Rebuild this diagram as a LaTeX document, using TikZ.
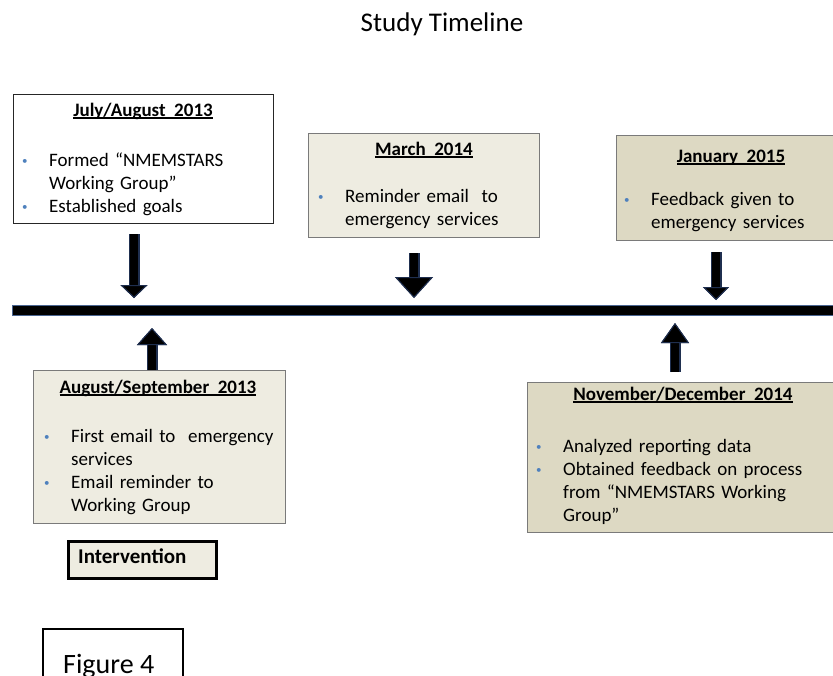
\documentclass[tikz,border=0pt]{standalone}
\usepackage{fontspec}
\setmainfont{Carlito}
\usetikzlibrary{arrows.meta,calc,positioning}
\definecolor{tan}{HTML}{EEECE1}
\definecolor{darktan}{HTML}{DDD9C3}
\definecolor{dotblue}{HTML}{4F81BD}
\definecolor{navy}{HTML}{1F2F4F}
\definecolor{barblue}{HTML}{4A6590}
\definecolor{edge}{HTML}{7A7A7A}
\newcommand{\bitem}[1]{\hangindent=27pt\hangafter=1\noindent\hbox to 27pt{\raisebox{1.5pt}{\textcolor{dotblue}{\fontsize{11}{11}\selectfont\textbullet}}\hfil}#1\par}
\newcommand{\uln}[1]{\setbox0\hbox{#1}\rlap{\rule[-2.5pt]{\wd0}{1.2pt}}\box0}

\begin{document}
\begin{tikzpicture}[x=1pt,y=-1pt]
\tikzstyle{box} = [draw=edge, line width=1.2pt, anchor=north west, inner sep=0pt]
\tikzstyle{head} = [font=\bfseries\fontsize{19}{23}\selectfont, anchor=base, inner sep=0pt]
\tikzstyle{list} = [font=\fontsize{19}{23}\selectfont, anchor=base west, inner sep=0pt, text width=290pt, align=left]
\tikzstyle{fat} = [draw=black, line width=8pt, preaction={draw=navy, line width=11pt}]
\fill[white, use as bounding box] (0,0) rectangle (833,675);

% title
\node[font=\fontsize{27}{32}\selectfont, anchor=base, inner sep=0pt] (title) at (442,31) {Study Timeline};

% the time line
\coordinate (start) at (13,310);
\coordinate (end) at (845,310);
\draw[line width=9pt, preaction={draw=barblue, line width=11pt, shorten <=-1pt}] (start) -- (end);

% boxes above the line
\node[box, fill=white, draw=black!85, minimum width=260pt, minimum height=129pt] (jul) at (13,94) {};
\node[head] (julT) at (143,116) {\uln{July/August\ \ 2013}};
\node[list] (julL) at (22,166) {\bitem{Formed “NMEMSTARS\newline Working Group”}\bitem{Established goals}};

\node[box, fill=tan, minimum width=231pt, minimum height=104pt] (mar) at (308,133) {};
\node[head] (marT) at (424,155) {\uln{March\ \ 2014}};
\node[list] (marL) at (318,202) {\bitem{Reminder email\ \ to\newline emergency\ services}};

\node[box, fill=darktan, minimum width=230pt, minimum height=105pt] (jan) at (616,135) {};
\node[head] (janT) at (731,162) {\uln{January\ \ 2015}};
\node[list] (janL) at (624,205) {\bitem{Feedback given to\newline emergency services}};

% boxes below the line
\node[box, fill=tan, minimum width=252pt, minimum height=153pt] (aug) at (33,370) {};
\node[head] (augT) at (158,393) {\uln{August/September\ \ 2013}};
\node[list] (augL) at (44,442) {\bitem{First email to\ \ emergency\newline services}\bitem{Email reminder to\newline Working Group}};

\node[box, fill=darktan, minimum width=320pt, minimum height=150pt] (nov) at (527,382) {};
\node[head] (novT) at (683,400) {\uln{November/December\ \ 2014}};
\node[list] (novL) at (536,452) {\bitem{Analyzed reporting data}\bitem{Obtained feedback on process\newline from “NMEMSTARS Working\newline Group”}};

\node[box, draw=black, line width=3pt, fill=tan, minimum width=148pt, minimum height=37pt] (intv) at (67,540) {};
\node[font=\bfseries\fontsize{21}{25}\selectfont, anchor=base west, inner sep=0pt] (intvT) at (78,563) {Intervention};

\node[font=\fontsize{28}{32}\selectfont, anchor=base west, inner sep=0pt] (fig) at (63,673) {Figure 4};
\draw[line width=1.5pt] (43,680) -- (43,629) -- (183,629) -- (183,680);

% arrows
\coordinate (m1) at (134,310);
\coordinate (m2) at (414,310);
\coordinate (m3) at (716,310);
\coordinate (m4) at (152,310);
\coordinate (m5) at (675,310);
\draw[fat, -{Triangle[width=27pt,length=13pt,line width=1pt,color=navy,fill=black]}, shorten <=10pt, shorten >=12pt] (jul.south -| m1) -- (m1);
\draw[fat, -{Triangle[width=38pt,length=21pt,line width=1pt,color=navy,fill=black]}, shorten <=15pt, shorten >=12pt] (mar.south -| m2) -- (m2);
\draw[fat, -{Triangle[width=26pt,length=13pt,line width=1pt,color=navy,fill=black]}, shorten <=11pt, shorten >=10pt] (jan.south -| m3) -- (m3);
\draw[fat, -{Triangle[width=30pt,length=17pt,line width=1pt,color=navy,fill=black]}, shorten >=18pt] (aug.north -| m4) -- (m4);
\draw[fat, -{Triangle[width=28pt,length=20pt,line width=1pt,color=navy,fill=black]}, shorten <=10pt, shorten >=13pt] (nov.north -| m5) -- (m5);
\end{tikzpicture}
\end{document}
